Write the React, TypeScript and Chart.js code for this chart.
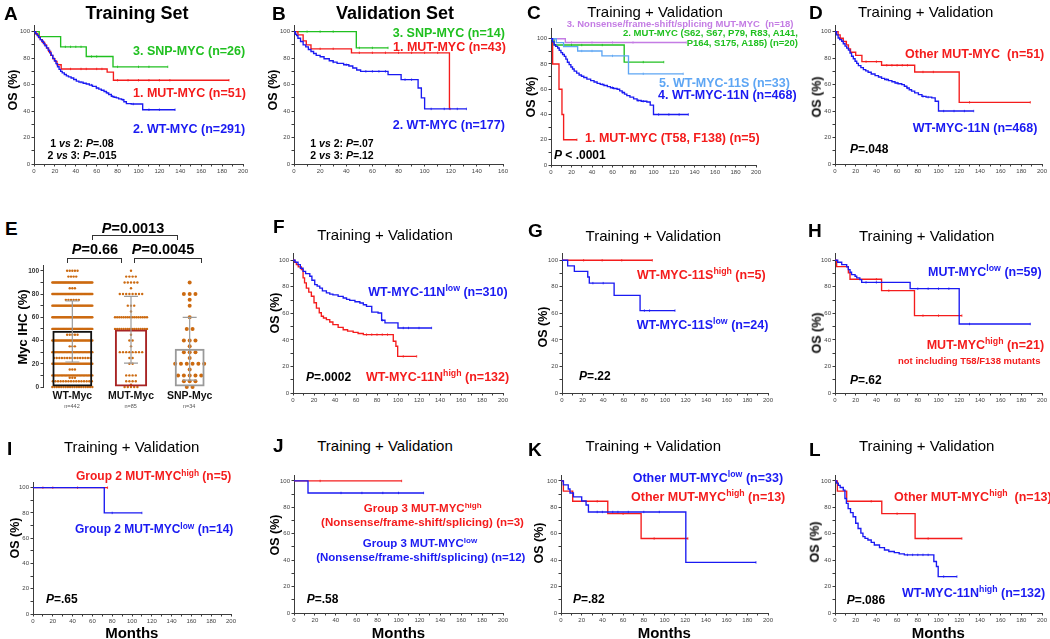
import React, { useEffect, useRef } from "react";
import { Chart, registerables } from "chart.js";

Chart.register(...registerables);

const FONT = "'Liberation Sans', Arial, Helvetica, sans-serif";
const RED = "#f41c1c";
const BLUE = "#1a1af2";
const GREEN = "#20c020";
const LBLUE = "#5ea6f4";
const VIOLET = "#c47ce4";
const AXIS = "#3c3c3c";
const TICK = "#444444";
const ORANGE = "#cc6a10";

// ---------- Panel A (Training set) ----------
const aSnpT = [0, 5, 25.5, 50, 75.6, 128];
const aSnpS = [100, 96.2, 88.5, 81.2, 73.4, 73.4];
const aSnpC = [30, 35, 40, 45, 55, 60, 80, 100, 110, 128];
const aMutT = [0, 2, 4, 6, 8, 10, 12, 14, 16, 18, 20, 22, 26, 70, 76, 186.6];
const aMutS = [100, 98, 96, 94, 92, 90, 87.5, 85, 82, 79.5, 77.5, 75, 71.8, 69.4, 63.3, 63.3];
const aMutC = [35, 45, 50, 60, 65, 80, 90, 100, 110, 120, 130, 186.6];
const aWtT = [0, 1.5, 3, 4.5, 6, 7.5, 9, 10.5, 12, 13.5, 15, 16.5, 18, 19.5, 21, 22.5, 24, 25.5, 27, 29, 31, 33, 35.5, 38, 40.5, 43, 47, 50, 53, 56, 59.6, 62, 64.4, 67, 69.2, 71.5, 74, 76.5, 78.8, 81, 83.6, 86, 88.4, 93, 104, 135];
const aWtS = [100, 98.5, 97, 95.5, 94, 92.7, 91, 89.3, 87.7, 86, 84, 82, 79.8, 78, 75.8, 73.5, 71.5, 70, 68.8, 67.6, 66.6, 65.8, 65, 63.8, 62.6, 61.8, 61, 60.4, 59.6, 58.6, 57.4, 56.6, 55.7, 54.8, 53.7, 52.5, 51.1, 50.4, 49.9, 49.2, 48.6, 47, 45.6, 45.3, 41, 41];
const aWtC = [45, 55, 60, 70, 75, 85, 95, 110, 120, 135];

// ---------- Panel B (Validation set) ----------
const bSnpT = [0, 47.7, 72];
const bSnpS = [100, 87.7, 87.7];
const bSnpC = [10, 20, 30, 50, 60, 72];
const bMutT = [0, 3, 7, 9.4, 13, 44, 119, 119.5];
const bMutS = [100, 97.5, 93, 90, 87, 84, 41.6, 41.6];
const bMutC = [20, 30, 50, 60, 70, 80, 90, 100, 110, 119.5];
const bWtT = [0, 1, 2, 3, 5, 7, 9, 11, 13, 15, 17, 20, 23, 27, 30, 33, 38, 42, 45, 48, 51, 72, 82, 95, 97.5, 100, 132];
const bWtS = [100, 98, 97, 95, 92.5, 90, 88.5, 86.5, 85, 83.5, 82, 81, 79.5, 78, 77, 76, 75, 74, 72.5, 71, 70, 67.5, 63.7, 57.4, 50, 41.6, 41.6];
const bWtC = [30, 40, 55, 60, 65, 70, 85, 90, 105, 115, 125, 132];

// ---------- Panel C ----------
const cT58T = [0, 1.6, 7.8, 10.7, 12.3, 25.3];
const cT58S = [100, 80, 60, 40, 20, 20];
const cT58C = [25.3];
const cG3T = [0, 14, 132];
const cG3S = [100, 97, 97];
const cG3C = [20, 40, 60, 80, 132];
const cG2T = [0, 3, 71.4, 110];
const cG2S = [100, 95, 81.5, 81.5];
const cG2C = [20, 30, 50, 90, 110];
const c11sT = [0, 5.2, 12.3, 26, 49.7, 75.6, 129];
const c11sS = [100, 96.9, 93.8, 90.3, 86.4, 72.2, 72.2];
const c11sC = [30, 40, 60, 90, 129];

// ---------- WT-MYC-11N (panels C, D) ----------
const n11T = [0, 1.5, 3, 4.5, 6.5, 8, 9.7, 11.3, 13, 14.5, 16, 17.7, 19.4, 21, 22.6, 25, 27.4, 29.7, 32, 35, 38.7, 42, 45, 48, 51.6, 55, 58, 61, 64.5, 67, 69.4, 71.7, 74, 77, 80.6, 84, 88, 93.5, 96.8, 100, 134];
const n11S = [100, 97.5, 95.2, 94, 92.7, 90.8, 89, 87.5, 86, 83.8, 81.4, 79.5, 77.6, 76, 74.3, 72.8, 71.3, 70.3, 69.3, 68, 66.8, 65.7, 64.7, 63.8, 63, 62.1, 61.2, 60.6, 60, 58.7, 57.4, 56.1, 55, 53.7, 52.4, 51.1, 50.5, 49.9, 47.4, 40, 40];
const n11C = [50, 60, 70, 85, 90, 105, 115, 125, 134];

// ---------- Panel D ----------
const dMutT = [0, 3, 5, 8, 11, 13, 15, 20, 26, 45, 77, 120, 188.7];
const dMutS = [100, 97.5, 95, 92.5, 90, 87, 84.4, 82, 77.3, 74.6, 69.5, 46.6, 46.6];
const dMutC = [30, 40, 50, 55, 60, 65, 70, 85, 95, 130, 188.7];

// ---------- Panel E (Myc IHC) ----------
const groupNames = ["WT-Myc", "MUT-Myc", "SNP-Myc"];
const groupN = ["n=442", "n=85", "n=34"];
const groupMean = [48.5, 49.5, 33];
const groupSdLow = [21.5, 20.5, 6];
const groupSdHigh = [74, 78, 60];
const wtLevels = [0, 5, 8, 10, 15, 20, 25, 30, 35, 40, 45, 50, 60, 70, 75, 80, 85, 90, 95, 100];
const wtCounts = [19, 16, 3, 30, 3, 36, 15, 31, 3, 36, 5, 56, 41, 42, 6, 46, 3, 42, 4, 5];
const mutLevels = [0, 2, 5, 10, 20, 25, 30, 35, 40, 45, 50, 60, 65, 70, 80, 85, 90, 95, 100];
const mutCounts = [5, 1, 4, 4, 2, 2, 8, 1, 2, 1, 16, 16, 1, 3, 8, 1, 5, 4, 1];
const snpLevels = [0, 5, 10, 15, 20, 25, 30, 35, 40, 50, 60, 70, 75, 80, 90];
const snpCounts = [2, 3, 5, 1, 6, 1, 3, 1, 3, 2, 1, 1, 1, 3, 1];

// ---------- Panel F / L (WT-MYC-11N low/high) ----------
const fLowT = [0, 2, 4.8, 7, 9.6, 12, 16, 18, 20.7, 23, 25.5, 28, 31.8, 35, 38, 43, 47.8, 51, 54, 59, 63.7, 67, 70, 75, 81, 84.4, 87.6, 100, 132];
const fLowS = [100, 98.5, 96.7, 94, 91.7, 90, 88, 85, 81.7, 80.5, 79, 77, 75.4, 74.5, 74, 72.8, 71.6, 70.5, 69.8, 68.8, 67.8, 66.5, 65.3, 61, 60.3, 54.8, 52.8, 49, 49];
const fLowC = [85, 105, 110, 120, 132];
const fHighT = [0, 1.5, 3.2, 5, 8, 9.6, 11, 12.7, 15, 17.5, 20, 22.3, 25, 27, 29, 31.8, 35, 38, 43, 47.8, 52, 57.3, 62, 67, 95.5, 98, 99.7, 117.8];
const fHighS = [100, 98.4, 96.7, 95, 93, 86.7, 83, 79, 76, 72.9, 68, 64, 60.5, 57.8, 56.5, 55.3, 53.5, 51.5, 49.5, 47.7, 46.6, 45.7, 44.8, 44, 39, 35.2, 27.6, 27.6];
const fHighC = [70, 75, 80, 85, 90, 105, 117.8];

// ---------- Panel G ----------
const gHighT = [0, 87.7];
const gHighS = [100, 100];
const gHighC = [21, 39, 58, 87.7];
const gLowT = [0, 5.5, 12, 25, 26.5, 50.6, 75.8, 109.7];
const gLowS = [100, 95.8, 91.7, 87.4, 82.8, 73.6, 62.1, 62.1];
const gLowC = [30, 40, 80, 85, 109.7];

// ---------- Panel H ----------
const hLowT = [0, 2.6, 6.5, 11.3, 12.9, 14.5, 16, 19.4, 21, 24, 25.8, 72.6, 120, 188.7];
const hLowS = [100, 98.5, 96.7, 95, 93, 91, 89.2, 88, 86.7, 85.4, 83.4, 78.6, 52, 52];
const hLowC = [30, 40, 80, 90, 100, 110, 130, 188.7];
const hHighT = [0, 1.6, 12.9, 14.5, 45, 76.8, 122.6];
const hHighS = [100, 95.2, 90.5, 85.7, 77.1, 58.3, 58.3];
const hHighC = [40, 52, 85, 100, 122.6];

// ---------- Panel I ----------
const iHighT = [0, 75.3];
const iHighS = [100, 100];
const iHighC = [10, 20, 45, 75.3];
const iLowT = [0, 72, 110];
const iLowS = [100, 80, 80];
const iLowC = [80, 110];

// ---------- Panel J ----------
const jHighT = [0, 103];
const jHighS = [100, 100];
const jHighC = [25, 103];
const jLowT = [0, 13.4, 124];
const jLowS = [100, 90.9, 90.9];
const jLowC = [45, 65, 85, 100, 124];

// ---------- Panel K / L (Other MUT-MYC) ----------
const kLowT = [0, 2.3, 7, 8.7, 12, 20, 24.2, 26.5, 120.6, 188.4];
const kLowS = [100, 97, 93.9, 90.9, 87.9, 84.8, 81.8, 76.5, 38.3, 38.3];
const kLowC = [35, 40, 50, 55, 65, 80, 95, 188.4];
const kHighT = [0, 2.3, 11.3, 45.2, 77.4, 122.6];
const kHighS = [100, 92.3, 84.6, 75.2, 56.4, 56.4];
const kHighC = [35, 60, 90, 122.6];

type Curve = { t: number[]; s: number[]; c: number[]; color: string };

function survAt(t: number[], s: number[], x: number) {
  let v = s[0];
  for (let i = 0; i < t.length; i++) if (t[i] <= x) v = s[i];
  return v;
}

const YW = 18;
const XH = 12;
const PT = 6;
const PR = 10;

const everyOther = (v: any) => (Number(v) % 20 === 0 ? String(v) : "");

function axisCommon(size: number, bold = false) {
  return {
    border: { display: true, color: AXIS, width: 1 },
    grid: { display: true, drawOnChartArea: false, drawTicks: true, tickLength: 2.5, color: AXIS, lineWidth: 1 },
    ticks: { autoSkip: false, maxRotation: 0, color: TICK, font: { family: FONT, size, weight: bold ? "bold" : "normal" } },
  };
}

function KM(props: { x0: number; x1: number; y0: number; y100: number; xMax: number; yMax: number; curves: Curve[] }) {
  const { x0, x1, y0, y100, xMax, yMax, curves } = props;
  const ref = useRef<HTMLCanvasElement | null>(null);
  const yTop = y0 - ((y0 - y100) * yMax) / 100;
  const left = Math.round(x0 - YW);
  const top = Math.round(yTop - PT);
  const width = Math.round(x1 + PR - left);
  const height = Math.round(y0 + XH - top);
  useEffect(() => {
    const datasets: any[] = [];
    curves.forEach((cv) => {
      datasets.push({
        type: "line",
        data: cv.t.map((t, i) => ({ x: t, y: cv.s[i] })),
        borderColor: cv.color,
        borderWidth: 1.35,
        pointRadius: 0,
        stepped: true,
        fill: false,
      });
      datasets.push({
        type: "scatter",
        data: cv.c.map((t) => ({ x: t, y: survAt(cv.t, cv.s, t) })),
        pointStyle: "line",
        rotation: 90,
        pointRadius: 1.2,
        borderColor: cv.color,
        backgroundColor: cv.color,
        borderWidth: 0.8,
        showLine: false,
      });
    });
    const xa = axisCommon(6);
    const ya = axisCommon(6);
    const chart = new Chart(ref.current as HTMLCanvasElement, {
      type: "line",
      data: { datasets },
      options: {
        responsive: false,
        animation: false,
        events: [],
        layout: { padding: { top: PT, right: PR, left: 0, bottom: 0 } },
        plugins: { legend: { display: false }, tooltip: { enabled: false } },
        scales: {
          x: {
            type: "linear",
            min: 0,
            max: xMax,
            ...xa,
            ticks: { ...xa.ticks, stepSize: 10, padding: 1, callback: everyOther },
            afterFit: (s: any) => {
              s.height = XH;
              s.paddingLeft = 0;
              s.paddingRight = 0;
            },
          },
          y: {
            type: "linear",
            min: 0,
            max: yMax,
            ...ya,
            ticks: { ...ya.ticks, stepSize: 10, includeBounds: false, padding: 1.5, callback: everyOther },
            afterFit: (s: any) => {
              s.width = YW;
              s.paddingTop = 0;
              s.paddingBottom = 0;
            },
          },
        },
      } as any,
    });
    return () => chart.destroy();
  }, []);
  return <canvas ref={ref} width={width} height={height} style={{ position: "absolute", left, top, width, height }} />;
}

const E_GEOM = { x0: 42.7, x1: 218.5, y0: 386.7, y100: 271, yMax: 105 };
const dotGroups = [
  { levels: wtLevels, counts: wtCounts, r: 1.2, gap: 2.6, maxW: 40 },
  { levels: mutLevels, counts: mutCounts, r: 1.2, gap: 3.2, maxW: 32 },
  { levels: snpLevels, counts: snpCounts, r: 2, gap: 5.8, maxW: 37 },
];

function EChart() {
  const ref = useRef<HTMLCanvasElement | null>(null);
  const { x0, x1, y0, y100, yMax } = E_GEOM;
  const EXH = 20;
  const yTop = y0 - ((y0 - y100) * yMax) / 100;
  const left = Math.round(x0 - YW);
  const top = Math.round(yTop - PT);
  const width = Math.round(x1 + 4 - left);
  const height = Math.round(y0 + EXH - top);
  useEffect(() => {
    const dotPlugin = {
      id: "dots",
      beforeDatasetsDraw(chart: any) {
        const ctx = chart.ctx;
        const xs = chart.scales.x;
        const ys = chart.scales.y;
        ctx.save();
        ctx.fillStyle = ORANGE;
        dotGroups.forEach((g, gi) => {
          const cx = xs.getPixelForValue(gi);
          g.levels.forEach((lv, li) => {
            const n = g.counts[li];
            const sp = n > 1 ? Math.min(g.gap, g.maxW / (n - 1)) : 0;
            const py = ys.getPixelForValue(lv);
            for (let k = 0; k < n; k++) {
              const px = cx + (k - (n - 1) / 2) * sp;
              ctx.beginPath();
              ctx.arc(px, py, g.r, 0, Math.PI * 2);
              ctx.fill();
            }
          });
        });
        ctx.restore();
      },
      afterDatasetsDraw(chart: any) {
        const ctx = chart.ctx;
        const xs = chart.scales.x;
        const ys = chart.scales.y;
        ctx.save();
        ctx.strokeStyle = "#9c9c9c";
        ctx.lineWidth = 1.2;
        groupNames.forEach((_, gi) => {
          const cx = xs.getPixelForValue(gi);
          const lo = ys.getPixelForValue(groupSdLow[gi]);
          const hi = ys.getPixelForValue(groupSdHigh[gi]);
          ctx.beginPath();
          ctx.moveTo(cx, lo);
          ctx.lineTo(cx, hi);
          ctx.moveTo(cx - 7, lo);
          ctx.lineTo(cx + 7, lo);
          ctx.moveTo(cx - 7, hi);
          ctx.lineTo(cx + 7, hi);
          ctx.stroke();
        });
        ctx.restore();
      },
    };
    const ya = axisCommon(6.5, true);
    const chart = new Chart(ref.current as HTMLCanvasElement, {
      type: "bar",
      data: {
        labels: groupNames,
        datasets: [
          { data: [groupMean[0], null, null], borderColor: "#111111", barPercentage: 0.68 },
          { data: [null, groupMean[1], null], borderColor: "#a82424", barPercentage: 0.55 },
          { data: [null, null, groupMean[2]], borderColor: "#9a9a9a", barPercentage: 0.51 },
        ],
      },
      options: {
        responsive: false,
        animation: false,
        events: [],
        datasets: {
          bar: { grouped: false, categoryPercentage: 1, borderWidth: 2, borderSkipped: false, backgroundColor: "rgba(255,255,255,0)" },
        },
        layout: { padding: { top: PT, right: 4, left: 0, bottom: 0 } },
        plugins: { legend: { display: false }, tooltip: { enabled: false } },
        scales: {
          x: {
            type: "category",
            offset: true,
            grid: { display: false, drawTicks: false },
            border: { display: false },
            ticks: { color: "#111", padding: 3, font: { family: FONT, size: 10.5, weight: "bold" } },
            afterFit: (s: any) => {
              s.height = EXH;
              s.paddingLeft = 0;
              s.paddingRight = 0;
            },
          },
          y: {
            type: "linear",
            min: 0,
            max: yMax,
            ...ya,
            ticks: { ...ya.ticks, color: "#333", stepSize: 10, includeBounds: false, padding: 1.5, callback: everyOther },
            afterFit: (s: any) => {
              s.width = YW;
              s.paddingTop = 0;
              s.paddingBottom = 0;
            },
          },
        },
      } as any,
      plugins: [dotPlugin],
    });
    return () => chart.destroy();
  }, []);
  return <canvas ref={ref} width={width} height={height} style={{ position: "absolute", left, top, width, height }} />;
}

function T(props: {
  x: number;
  y: number;
  size?: number;
  bold?: boolean;
  color?: string;
  align?: "left" | "center" | "right";
  rotate?: boolean;
  children: any;
}) {
  const { x, y, size = 12.5, bold = true, color = "#000", align = "left", rotate = false, children } = props;
  const tx = rotate || align === "center" ? "-50%" : align === "right" ? "-100%" : "0";
  return (
    <div
      style={{
        position: "absolute",
        left: x,
        top: y,
        transform: `translate(${tx}, -50%)${rotate ? " rotate(-90deg)" : ""}`,
        fontFamily: FONT,
        fontSize: size,
        fontWeight: bold ? 700 : 400,
        color,
        whiteSpace: "nowrap",
        lineHeight: 1,
      }}
    >
      {children}
    </div>
  );
}

const Sup = ({ children }: { children: any }) => (
  <span style={{ fontSize: "0.7em", verticalAlign: "0.5em", lineHeight: 0 }}>{children}</span>
);
const P = () => <i>P</i>;

function Bracket({ x1, x2, y, h }: { x1: number; x2: number; y: number; h: number }) {
  return (
    <div
      style={{
        position: "absolute",
        left: x1,
        top: y,
        width: x2 - x1,
        height: h,
        border: "1.3px solid #333",
        borderBottom: "none",
        boxSizing: "border-box",
      }}
    />
  );
}

const OS = ({ x, y }: { x: number; y: number }) => (
  <T x={x} y={y} size={12.5} rotate>
    OS (%)
  </T>
);
const Title = ({ x, y }: { x: number; y: number }) => (
  <T x={x} y={y} size={15} bold={false} align="center">
    Training + Validation
  </T>
);
const Letter = ({ x, y, children }: { x: number; y: number; children: any }) => (
  <T x={x} y={y} size={19}>
    {children}
  </T>
);

export default function App() {
  const eCat = (E_GEOM.x1 - E_GEOM.x0) / 3;
  const eCenters = [0, 1, 2].map((i) => E_GEOM.x0 + eCat * (i + 0.5));
  return (
    <div style={{ position: "absolute", left: 0, top: 0, width: 1050, height: 639, background: "#fff", overflow: "hidden" }}>
      {/* ---------- Row 1 ---------- */}
      <KM x0={34.3} x1={243.3} y0={164.3} y100={32} xMax={200} yMax={105}
        curves={[
          { t: aWtT, s: aWtS, c: aWtC, color: BLUE },
          { t: aMutT, s: aMutS, c: aMutC, color: RED },
          { t: aSnpT, s: aSnpS, c: aSnpC, color: GREEN },
        ]} />
      <Letter x={4} y={13}>A</Letter>
      <T x={137} y={13} size={18} align="center">Training Set</T>
      <OS x={13} y={90} />
      <T x={133} y={50.7} color={GREEN}>3. SNP-MYC (n=26)</T>
      <T x={133} y={93.3} color={RED}>1. MUT-MYC (n=51)</T>
      <T x={133} y={129} color={BLUE}>2. WT-MYC (n=291)</T>
      <T x={82} y={142.7} size={10.5} align="center">1 <i>vs</i> 2: <P />=.08</T>
      <T x={82} y={155} size={10.5} align="center">2 <i>vs</i> 3: <P />=.015</T>

      <KM x0={294.3} x1={503.3} y0={164.3} y100={32} xMax={160} yMax={105}
        curves={[
          { t: bWtT, s: bWtS, c: bWtC, color: BLUE },
          { t: bMutT, s: bMutS, c: bMutC, color: RED },
          { t: bSnpT, s: bSnpS, c: bSnpC, color: GREEN },
        ]} />
      <Letter x={272} y={13}>B</Letter>
      <T x={395} y={13} size={18} align="center">Validation Set</T>
      <OS x={273} y={90} />
      <T x={392.7} y={33} color={GREEN}>3. SNP-MYC (n=14)</T>
      <T x={393} y={46.7} color={RED}>1. MUT-MYC (n=43)</T>
      <T x={392.7} y={125} color={BLUE}>2. WT-MYC (n=177)</T>
      <T x={342} y={142.7} size={10.5} align="center">1 <i>vs</i> 2: <P />=.07</T>
      <T x={342} y={155} size={10.5} align="center">2 <i>vs</i> 3: <P />=.12</T>

      <KM x0={550.7} x1={756} y0={164.7} y100={39} xMax={200} yMax={108.5}
        curves={[
          { t: n11T, s: n11S, c: n11C, color: BLUE },
          { t: c11sT, s: c11sS, c: c11sC, color: LBLUE },
          { t: cG3T, s: cG3S, c: cG3C, color: VIOLET },
          { t: cG2T, s: cG2S, c: cG2C, color: GREEN },
          { t: cT58T, s: cT58S, c: cT58C, color: RED },
        ]} />
      <Letter x={527} y={12}>C</Letter>
      <Title x={655} y={11} />
      <OS x={530.5} y={97} />
      <T x={566.7} y={24.3} size={9.5} color={VIOLET}>3. Nonsense/frame-shift/splicing MUT-MYC&nbsp;&nbsp;(n=18)</T>
      <T x={798} y={33.3} size={9.5} color={GREEN} align="right">2. MUT-MYC (S62, S67, P79, R83, A141,</T>
      <T x={798} y={43.3} size={9.5} color={GREEN} align="right">P164, S175, A185) (n=20)</T>
      <T x={659} y={83.3} color={LBLUE}>5. WT-MYC-11S (n=33)</T>
      <T x={658} y={94.8} color={BLUE}>4. WT-MYC-11N (n=468)</T>
      <T x={585} y={137.7} color={RED}>1. MUT-MYC (T58, F138) (n=5)</T>
      <T x={554} y={155} size={12}><P /> &lt; .0001</T>

      <KM x0={835} x1={1041.7} y0={164.3} y100={32} xMax={200} yMax={105}
        curves={[
          { t: n11T, s: n11S, c: n11C, color: BLUE },
          { t: dMutT, s: dMutS, c: dMutC, color: RED },
        ]} />
      <Letter x={809} y={12}>D</Letter>
      <Title x={925.7} y={11} />
      <OS x={816.7} y={97} />
      <T x={905} y={54} color={RED}>Other MUT-MYC&nbsp;&nbsp;(n=51)</T>
      <T x={912.7} y={127.7} color={BLUE}>WT-MYC-11N (n=468)</T>
      <T x={850} y={149.3} size={12}><P />=.048</T>

      {/* ---------- Row 2 ---------- */}
      <EChart />
      <Letter x={5} y={228.3}>E</Letter>
      <T x={22} y={326.7} size={13} rotate>Myc IHC (%)</T>
      <Bracket x1={91.7} x2={177.7} y={235} h={5} />
      <Bracket x1={66.7} x2={122.3} y={258.3} h={5} />
      <Bracket x1={134} x2={202.3} y={258.3} h={5} />
      <T x={133} y={228} size={14.5} align="center"><P />=0.0013</T>
      <T x={95} y={249.3} size={14.5} align="center"><P />=0.66</T>
      <T x={163} y={249.3} size={14.5} align="center"><P />=0.0045</T>
      {groupN.map((n, i) => (
        <T key={n} x={eCenters[i]} y={407} size={5.5} bold={false} color="#555" align="center">{n}</T>
      ))}

      <KM x0={293.3} x1={502.7} y0={393.3} y100={260.7} xMax={200} yMax={105.5}
        curves={[
          { t: fLowT, s: fLowS, c: fLowC, color: BLUE },
          { t: fHighT, s: fHighS, c: fHighC, color: RED },
        ]} />
      <Letter x={273} y={226}>F</Letter>
      <Title x={385} y={234} />
      <OS x={275} y={313} />
      <T x={368.3} y={291.7} color={BLUE}>WT-MYC-11N<Sup>low</Sup> (n=310)</T>
      <T x={306} y={376.7} size={12}><P />=.0002</T>
      <T x={366} y={376.7} color={RED}>WT-MYC-11N<Sup>high</Sup> (n=132)</T>

      <KM x0={561.7} x1={768.3} y0={393.3} y100={260.7} xMax={200} yMax={105.5}
        curves={[
          { t: gLowT, s: gLowS, c: gLowC, color: BLUE },
          { t: gHighT, s: gHighS, c: gHighC, color: RED },
        ]} />
      <Letter x={528} y={230}>G</Letter>
      <Title x={653.3} y={235} />
      <OS x={542.7} y={327} />
      <T x={637} y={275} color={RED}>WT-MYC-11S<Sup>high</Sup> (n=5)</T>
      <T x={636.7} y={325} color={BLUE}>WT-MYC-11S<Sup>low</Sup> (n=24)</T>
      <T x={579} y={375.7} size={12}><P />=.22</T>

      <KM x0={835} x1={1041.7} y0={393.3} y100={260.7} xMax={200} yMax={105.5}
        curves={[
          { t: hLowT, s: hLowS, c: hLowC, color: BLUE },
          { t: hHighT, s: hHighS, c: hHighC, color: RED },
        ]} />
      <Letter x={808} y={230}>H</Letter>
      <Title x={926.7} y={235} />
      <OS x={816.7} y={333} />
      <T x={928} y={271.7} color={BLUE}>MUT-MYC<Sup>low</Sup> (n=59)</T>
      <T x={926.7} y={345} color={RED}>MUT-MYC<Sup>high</Sup> (n=21)</T>
      <T x={898} y={360.7} size={9.5} color={RED}>not including T58/F138 mutants</T>
      <T x={850} y={380} size={12}><P />=.62</T>

      {/* ---------- Row 3 ---------- */}
      <KM x0={32.7} x1={231} y0={614} y100={487.3} xMax={200} yMax={104.5}
        curves={[
          { t: iLowT, s: iLowS, c: iLowC, color: BLUE },
          { t: iHighT, s: iHighS, c: iHighC, color: RED },
        ]} />
      <Letter x={7} y={447.5}>I</Letter>
      <Title x={131.7} y={445.7} />
      <OS x={15} y={538} />
      <T x={76} y={475.7} color={RED} size={12}>Group 2 MUT-MYC<Sup>high</Sup> (n=5)</T>
      <T x={75} y={529} color={BLUE} size={12}>Group 2 MUT-MYC<Sup>low</Sup> (n=14)</T>
      <T x={46} y={599} size={12}><P />=.65</T>
      <T x={131.8} y={632} size={15} align="center">Months</T>

      <KM x0={294.3} x1={502.7} y0={613.3} y100={480.7} xMax={200} yMax={104.5}
        curves={[
          { t: jLowT, s: jLowS, c: jLowC, color: BLUE },
          { t: jHighT, s: jHighS, c: jHighC, color: RED },
        ]} />
      <Letter x={273} y={445}>J</Letter>
      <Title x={385} y={445} />
      <OS x={275} y={535} />
      <T x={422.7} y={509} size={11.5} color={RED} align="center">Group 3 MUT-MYC<Sup>high</Sup></T>
      <T x={422.5} y={523.3} size={11.5} color={RED} align="center">(Nonsense/frame-shift/splicing) (n=3)</T>
      <T x={420} y={544} size={11.5} color={BLUE} align="center">Group 3 MUT-MYC<Sup>low</Sup></T>
      <T x={420.8} y={558.3} size={11.5} color={BLUE} align="center">(Nonsense/frame-shift/splicing) (n=12)</T>
      <T x={306.7} y={599} size={12}><P />=.58</T>
      <T x={398.5} y={632} size={15} align="center">Months</T>

      <KM x0={561} x1={767.7} y0={613.3} y100={480.7} xMax={200} yMax={104.5}
        curves={[
          { t: kLowT, s: kLowS, c: kLowC, color: BLUE },
          { t: kHighT, s: kHighS, c: kHighC, color: RED },
        ]} />
      <Letter x={528} y={449}>K</Letter>
      <Title x={653.3} y={445} />
      <OS x={539} y={543} />
      <T x={632.7} y={478.3} color={BLUE}>Other MUT-MYC<Sup>low</Sup> (n=33)</T>
      <T x={631} y={497.3} color={RED}>Other MUT-MYC<Sup>high</Sup> (n=13)</T>
      <T x={573} y={599} size={12}><P />=.82</T>
      <T x={664.3} y={632} size={15} align="center">Months</T>

      <KM x0={835} x1={1041.7} y0={613.3} y100={480.7} xMax={200} yMax={104.5}
        curves={[
          { t: fHighT, s: fHighS, c: fHighC, color: BLUE },
          { t: kHighT, s: kHighS, c: kHighC, color: RED },
        ]} />
      <Letter x={809} y={449}>L</Letter>
      <Title x={926.7} y={445} />
      <OS x={815} y={542} />
      <T x={894} y={497.3} color={RED}>Other MUT-MYC<Sup>high</Sup>&nbsp;&nbsp;(n=13)</T>
      <T x={902} y={593.3} color={BLUE}>WT-MYC-11N<Sup>high</Sup> (n=132)</T>
      <T x={846.7} y={600} size={12}><P />=.086</T>
      <T x={938.3} y={632} size={15} align="center">Months</T>
    </div>
  );
}
